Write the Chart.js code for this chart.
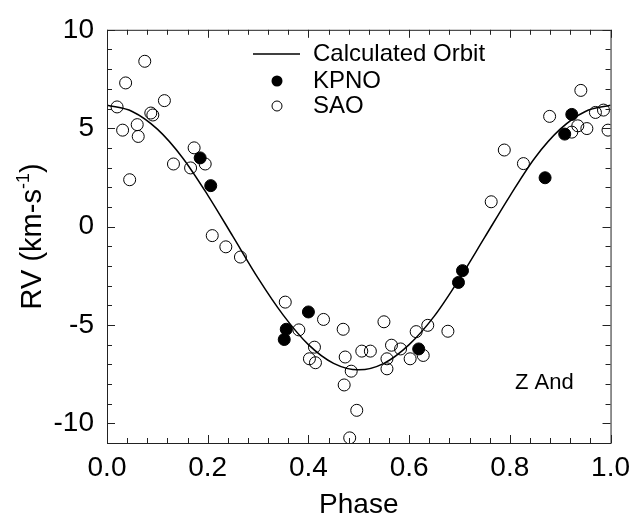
<!DOCTYPE html>
<html>
<head>
<meta charset="utf-8">
<script src="https://cdn.jsdelivr.net/npm/chart.js@4.4.1/dist/chart.umd.min.js"></script>
<style>
  body { margin: 0; background: #fff; }
</style>
</head>
<body>
<canvas id="myChart" width="638" height="520"></canvas>
<script>
// values (Z And radial velocities)
var kpnoPhase = [0.185, 0.206, 0.352, 0.356, 0.400, 0.619, 0.698, 0.706, 0.870, 0.909, 0.923];
var kpnoRV    = [3.49, 2.08, -5.74, -5.22, -4.34, -6.22, -2.84, -2.24, 2.48, 4.70, 5.70];

var saoPhase = [0.020, 0.031, 0.037, 0.045, 0.060, 0.062, 0.075, 0.087, 0.091, 0.114,
                0.132, 0.166, 0.173, 0.195, 0.209, 0.236, 0.265, 0.354, 0.381, 0.402,
                0.412, 0.414, 0.430, 0.469, 0.471, 0.473, 0.482, 0.485, 0.496, 0.506,
                0.523, 0.550, 0.556, 0.556, 0.565, 0.583, 0.602, 0.614, 0.628, 0.637,
                0.677, 0.763, 0.789, 0.827, 0.879, 0.923, 0.935, 0.941, 0.953, 0.970,
                0.986, 0.995];
var saoRV = [6.08, 4.90, 7.30, 2.38, 5.18, 4.58, 8.40, 5.77, 5.67, 6.40,
             3.18, 2.98, 4.00, 3.18, -0.46, -1.03, -1.55, -3.84, -5.25, -6.72,
             -6.13, -6.92, -4.72, -5.22, -8.05, -6.63, -10.74, -7.35, -9.34, -6.33,
             -6.33, -4.84, -6.72, -7.23, -6.03, -6.22, -6.72, -5.34, -6.55, -5.02,
             -5.32, 1.26, 3.89, 3.20, 5.60, 4.80, 5.12, 6.92, 4.98, 5.80,
             5.92, 4.90];

// calculated orbit, read at 0.05 steps in phase
var orbitPhase = [0, 0.05, 0.10, 0.15, 0.20, 0.25, 0.30, 0.35, 0.40, 0.45, 0.50,
                  0.55, 0.60, 0.65, 0.70, 0.75, 0.80, 0.85, 0.90, 0.95, 1.0];
var orbitRV = [6.17, 5.85, 4.95, 3.50, 1.60, -0.50, -2.62, -4.50, -6.00, -6.95, -7.28,
               -6.95, -6.00, -4.55, -2.65, -0.55, 1.55, 3.50, 4.95, 5.85, 6.17];

var xMajor = [0, 0.2, 0.4, 0.6, 0.8, 1.0];
var yMajor = [-10, -5, 0, 5, 10];
var xMinorStep = 0.04;
var yMinorStep = 1;

var FONT = '"Liberation Sans", Arial, Helvetica, sans-serif';

function pts(xs, ys) {
    return xs.map(function (x, i) { return { x: x, y: ys[i] }; });
}

// box + inward ticks on all four sides
var frameTicks = {
    id: 'frameTicks',
    afterDatasetsDraw: function (chart) {
        var ctx = chart.ctx, a = chart.chartArea;
        var xs = chart.scales.x, ys = chart.scales.y;
        ctx.save();
        ctx.strokeStyle = '#222';
        ctx.lineWidth = 1;
        ctx.strokeRect(a.left + 0.5, a.top + 0.5, a.right - a.left, a.bottom - a.top);
        ctx.beginPath();
        var v, p, len;
        for (v = 0; v <= 1.0001; v += xMinorStep) {
            p = Math.round(xs.getPixelForValue(v)) + 0.5;
            len = xMajor.some(function (m) { return Math.abs(m - v) < 1e-6; }) ? 8 : 5;
            ctx.moveTo(p, a.bottom); ctx.lineTo(p, a.bottom - len);
            ctx.moveTo(p, a.top); ctx.lineTo(p, a.top + len);
        }
        for (v = -11; v <= 10.0001; v += yMinorStep) {
            p = Math.round(ys.getPixelForValue(v)) + 0.5;
            len = yMajor.indexOf(Math.round(v)) >= 0 ? 8 : 5;
            ctx.moveTo(a.left, p); ctx.lineTo(a.left + len, p);
            ctx.moveTo(a.right, p); ctx.lineTo(a.right - len, p);
        }
        ctx.stroke();
        ctx.restore();
    },
    afterDraw: function (chart) {
        var ctx = chart.ctx, a = chart.chartArea;
        ctx.save();
        ctx.fillStyle = '#000';
        ctx.strokeStyle = '#000';

        // x title
        ctx.font = '28px ' + FONT;
        ctx.textAlign = 'center';
        ctx.textBaseline = 'middle';
        ctx.fillText('Phase', (a.left + a.right) / 2, 505);

        // y title with superscript
        ctx.translate(31, (a.top + a.bottom) / 2);
        ctx.rotate(-Math.PI / 2);
        ctx.textAlign = 'left';
        ctx.textBaseline = 'alphabetic';
        var s1 = 'RV (km-s', s2 = '-1', s3 = ')';
        ctx.font = '29px ' + FONT;
        var w1 = ctx.measureText(s1).width, w3 = ctx.measureText(s3).width;
        ctx.font = '18px ' + FONT;
        var w2 = ctx.measureText(s2).width;
        var x0 = -(w1 + w2 + w3) / 2;
        ctx.font = '29px ' + FONT;
        ctx.fillText(s1, x0, 10);
        ctx.font = '18px ' + FONT;
        ctx.fillText(s2, x0 + w1, -2);
        ctx.font = '29px ' + FONT;
        ctx.fillText(s3, x0 + w1 + w2, 10);
        ctx.setTransform(1, 0, 0, 1, 0, 0);

        // legend
        ctx.font = '24px ' + FONT;
        ctx.textAlign = 'left';
        ctx.textBaseline = 'middle';
        ctx.lineWidth = 1.5;
        ctx.beginPath();
        ctx.moveTo(253, 54); ctx.lineTo(300, 54);
        ctx.stroke();
        ctx.fillText('Calculated Orbit', 313, 54);
        ctx.beginPath();
        ctx.arc(277, 81, 5.5, 0, Math.PI * 2);
        ctx.fill();
        ctx.fillText('KPNO', 313, 81);
        ctx.lineWidth = 1;
        ctx.beginPath();
        ctx.arc(277, 106, 5, 0, Math.PI * 2);
        ctx.stroke();
        ctx.fillText('SAO', 313, 106);

        ctx.font = '22px ' + FONT;
        ctx.fillText('Z And', 515, 383);
        ctx.restore();
    }
};

var ctx = document.getElementById('myChart').getContext('2d');
var myChart = new Chart(ctx, {
    type: 'scatter',
    data: {
        datasets: [{
            label: 'Calculated Orbit',
            data: pts(orbitPhase, orbitRV),
            showLine: true,
            borderColor: '#000',
            borderWidth: 1.5,
            pointRadius: 0,
            cubicInterpolationMode: 'monotone',
            fill: false
        }, {
            label: 'KPNO',
            data: pts(kpnoPhase, kpnoRV),
            pointRadius: 6,
            pointBackgroundColor: '#000',
            pointBorderColor: '#000',
            pointBorderWidth: 1
        }, {
            label: 'SAO',
            data: pts(saoPhase, saoRV),
            pointRadius: 6,
            pointBackgroundColor: 'rgba(255,255,255,0)',
            pointBorderColor: '#000',
            pointBorderWidth: 1
        }]
    },
    options: {
        responsive: false,
        animation: false,
        layout: { padding: { top: 22, right: 24, left: 0, bottom: 0 } },
        plugins: {
            legend: { display: false },
            tooltip: { enabled: false }
        },
        scales: {
            x: {
                type: 'linear',
                min: 0,
                max: 1,
                grid: { display: false, drawTicks: false },
                border: { display: false },
                afterBuildTicks: function (s) { s.ticks = xMajor.map(function (v) { return { value: v }; }); },
                afterFit: function (s) { s.height = 77; },
                ticks: {
                    color: '#000',
                    padding: 8,
                    maxRotation: 0,
                    font: { size: 28, family: FONT },
                    callback: function (v) { return Number(v).toFixed(1); }
                }
            },
            y: {
                type: 'linear',
                min: -11,
                max: 10,
                grid: { display: false, drawTicks: false },
                border: { display: false },
                afterBuildTicks: function (s) { s.ticks = yMajor.map(function (v) { return { value: v }; }); },
                afterFit: function (s) { s.width = 107; },
                ticks: {
                    color: '#000',
                    padding: 13,
                    font: { size: 28, family: FONT },
                    callback: function (v) { return String(v); }
                }
            }
        }
    },
    plugins: [frameTicks]
});
</script>
</body>
</html>
